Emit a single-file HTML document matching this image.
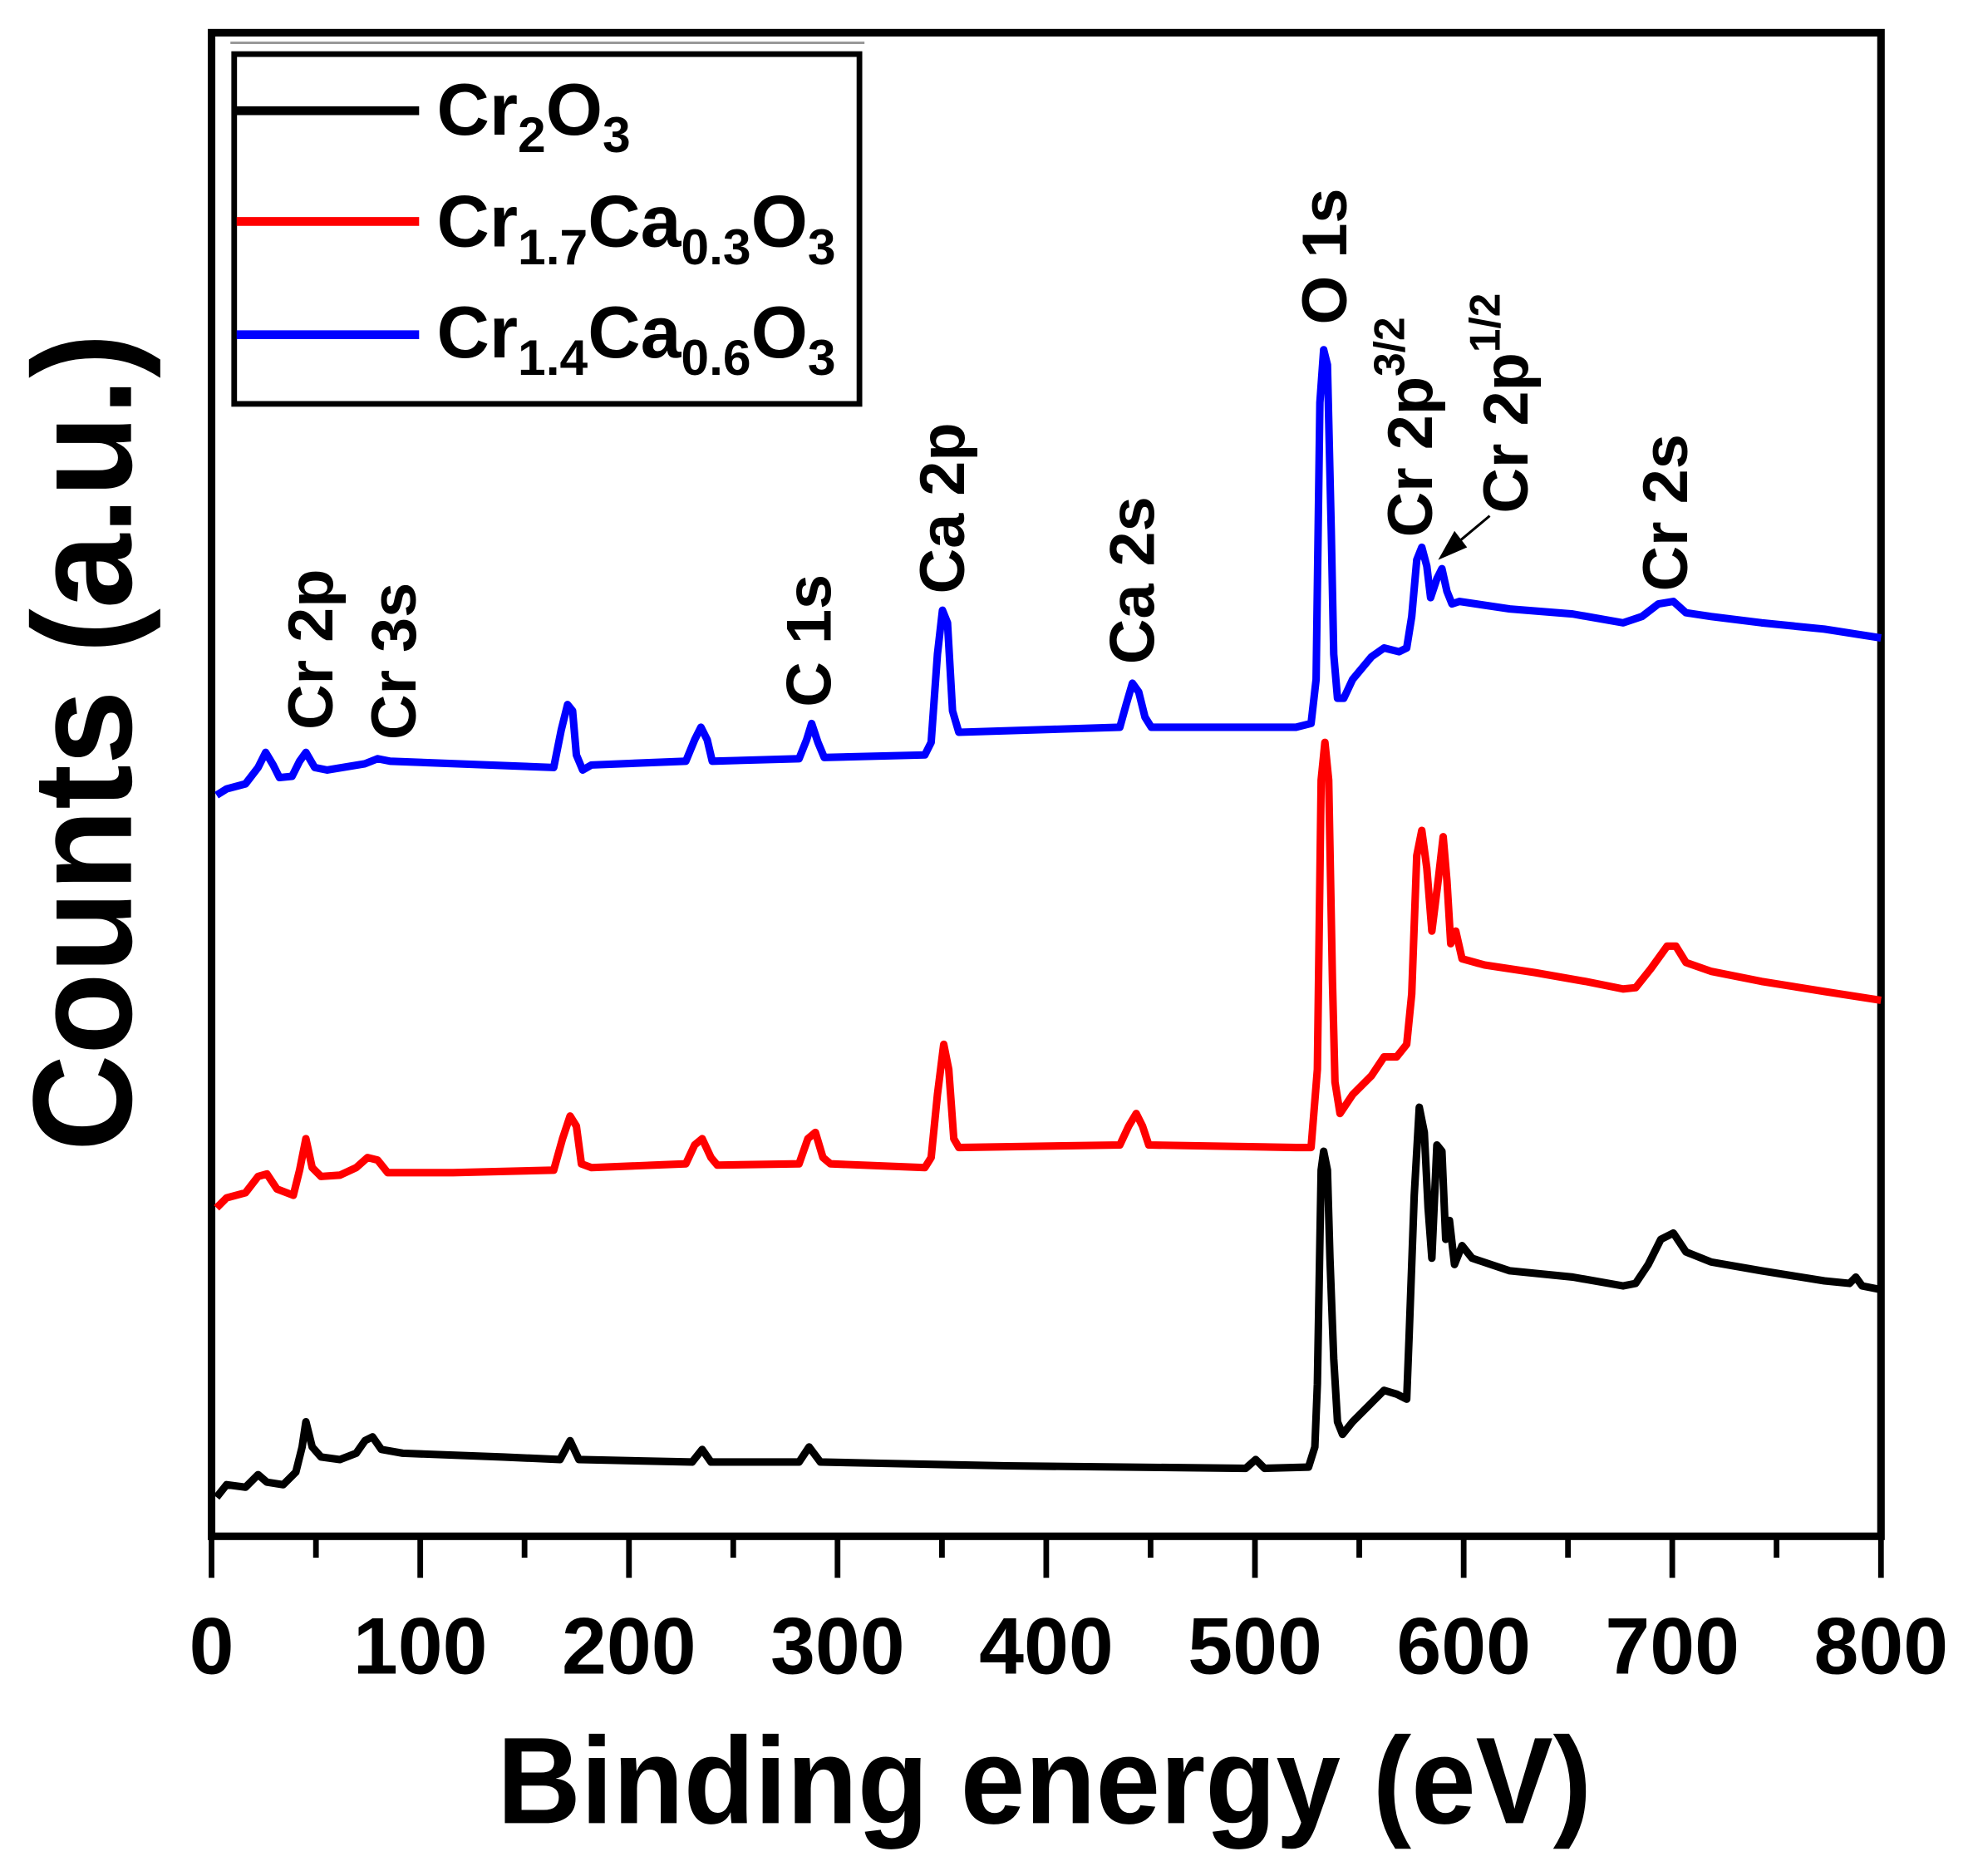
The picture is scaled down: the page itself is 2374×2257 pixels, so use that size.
<!DOCTYPE html>
<html><head><meta charset="utf-8"><style>html,body{margin:0;padding:0;background:#fff}svg{display:block}</style></head><body>
<svg width="2374" height="2257" viewBox="0 0 1568 1491" xmlns="http://www.w3.org/2000/svg" font-family="Liberation Sans, Arial, sans-serif" font-weight="bold">
<rect width="1568" height="1491" fill="#fff"/>
<rect x="168" y="26" width="1327" height="1195" fill="none" stroke="#000" stroke-width="6"/>
<line x1="183" y1="34" x2="687" y2="34" stroke="#999" stroke-width="2"/>
<g stroke="#000" stroke-width="4.5">
<line x1="168" y1="1221" x2="168" y2="1254"/><line x1="333.9" y1="1221" x2="333.9" y2="1254"/><line x1="499.8" y1="1221" x2="499.8" y2="1254"/><line x1="665.6" y1="1221" x2="665.6" y2="1254"/><line x1="831.5" y1="1221" x2="831.5" y2="1254"/><line x1="997.4" y1="1221" x2="997.4" y2="1254"/><line x1="1163.3" y1="1221" x2="1163.3" y2="1254"/><line x1="1329.1" y1="1221" x2="1329.1" y2="1254"/><line x1="1495" y1="1221" x2="1495" y2="1254"/>
<line x1="251" y1="1221" x2="251" y2="1238"/><line x1="416.8" y1="1221" x2="416.8" y2="1238"/><line x1="582.7" y1="1221" x2="582.7" y2="1238"/><line x1="748.6" y1="1221" x2="748.6" y2="1238"/><line x1="914.4" y1="1221" x2="914.4" y2="1238"/><line x1="1080.3" y1="1221" x2="1080.3" y2="1238"/><line x1="1246.2" y1="1221" x2="1246.2" y2="1238"/><line x1="1412" y1="1221" x2="1412" y2="1238"/>
</g>
<g font-size="64" text-anchor="middle">
<text x="168" y="1330">0</text><text x="333.9" y="1330">100</text><text x="499.8" y="1330">200</text><text x="665.6" y="1330">300</text><text x="831.5" y="1330">400</text><text x="997.4" y="1330">500</text><text x="1163.3" y="1330">600</text><text x="1329.1" y="1330">700</text><text x="1495" y="1330">800</text>
</g>
<text x="395" y="1449" font-size="98" textLength="870" lengthAdjust="spacingAndGlyphs">Binding energy (eV)</text>
<text transform="translate(104,915) rotate(-90)" font-size="112" textLength="650" lengthAdjust="spacingAndGlyphs">Counts (a.u.)</text>
<g fill="none" stroke-width="6" stroke-linejoin="round">
<polyline stroke="#000" points="172,1190 180,1180 195,1182 205,1172 212,1178 225,1180 235,1170 240,1150 243,1130 248,1150 255,1158 270,1160 283,1155 290,1145 296,1142 303,1152 320,1155 400,1158 445,1160 453,1145 460,1160 550,1162 558,1152 565,1162 635,1162 643,1150 652,1162 700,1163 800,1165 990,1167 998,1160 1005,1167 1040,1166 1045,1150 1047,1100 1050,930 1052,915 1055,930 1057,1000 1060,1080 1063,1130 1067,1140 1075,1130 1090,1115 1100,1105 1110,1108 1118,1112 1120,1060 1124,950 1128,880 1132,900 1135,960 1138,1000 1142,910 1146,915 1149,985 1152,970 1156,1005 1162,990 1170,1000 1200,1010 1250,1015 1290,1022 1300,1020 1310,1005 1320,985 1330,980 1340,995 1360,1003 1400,1010 1450,1018 1470,1020 1475,1015 1480,1022 1495,1025"/>
<polyline stroke="#f00" points="172,960 180,952 195,948 205,935 212,933 220,945 233,950 238,930 243,905 248,928 255,935 270,934 283,928 292,920 300,922 308,932 360,932 440,930 447,905 453,887 458,895 462,925 470,928 545,925 552,910 558,905 565,920 570,926 635,925 642,905 648,900 654,920 660,925 735,928 740,920 745,870 750,830 754,850 758,905 762,912 890,910 897,895 903,885 908,895 913,910 1030,912 1042,912 1047,850 1050,620 1053,590 1056,620 1059,780 1061,860 1065,885 1075,870 1090,855 1100,840 1110,840 1118,830 1122,790 1126,680 1130,660 1134,690 1138,740 1143,700 1147,665 1150,700 1153,750 1157,740 1162,762 1180,767 1220,773 1260,780 1290,786 1300,785 1312,770 1325,752 1332,752 1340,765 1360,772 1400,780 1450,788 1495,795"/>
<polyline stroke="#00f" points="172,632 180,627 195,623 205,610 211,598 217,608 222,618 232,617 238,605 243,598 250,610 260,612 290,607 300,603 310,605 440,610 446,580 451,560 455,565 458,600 463,612 470,608 545,605 552,588 557,578 562,588 566,605 635,603 641,588 645,575 650,590 655,602 735,600 740,590 745,520 749,485 753,495 757,565 762,582 890,578 895,560 900,543 905,550 910,570 915,578 1030,578 1042,575 1046,540 1049,320 1052,278 1055,290 1058,420 1060,520 1063,555 1068,555 1075,540 1090,522 1100,515 1112,518 1118,515 1122,490 1126,445 1130,435 1134,450 1137,475 1142,460 1146,452 1150,470 1154,480 1160,478 1200,484 1250,488 1290,495 1305,490 1318,480 1330,478 1340,487 1360,490 1400,495 1450,500 1495,507"/>
</g>
<rect x="186" y="43" width="497" height="278" fill="#fff" stroke="#000" stroke-width="4.5"/>
<line x1="188" y1="88" x2="333" y2="88" stroke="#000" stroke-width="7"/>
<line x1="188" y1="176" x2="333" y2="176" stroke="#f00" stroke-width="7"/>
<line x1="188" y1="266" x2="333" y2="266" stroke="#00f" stroke-width="7"/>
<g font-size="58">
<text x="347" y="107">Cr<tspan font-size="40" dy="14">2</tspan><tspan dy="-14">O</tspan><tspan font-size="40" dy="14">3</tspan></text>
<text x="347" y="196">Cr<tspan font-size="40" dy="14">1.7</tspan><tspan dy="-14">Ca</tspan><tspan font-size="40" dy="14">0.3</tspan><tspan dy="-14">O</tspan><tspan font-size="40" dy="14">3</tspan></text>
<text x="347" y="284">Cr<tspan font-size="40" dy="14">1.4</tspan><tspan dy="-14">Ca</tspan><tspan font-size="40" dy="14">0.6</tspan><tspan dy="-14">O</tspan><tspan font-size="40" dy="14">3</tspan></text>
</g>
<g font-size="50">
<text transform="translate(264,580) rotate(-90)">Cr 2p</text>
<text transform="translate(330,588) rotate(-90)">Cr 3s</text>
<text transform="translate(660,562) rotate(-90)">C 1s</text>
<text transform="translate(766,472) rotate(-90)">Ca 2p</text>
<text transform="translate(917,528) rotate(-90)">Ca 2s</text>
<text transform="translate(1070,258) rotate(-90)">O 1s</text>
<text transform="translate(1138,427) rotate(-90)">Cr 2p<tspan font-size="34" dy="-22">3/2</tspan></text>
<text transform="translate(1214,408) rotate(-90)">Cr 2p<tspan font-size="34" dy="-22">1/2</tspan></text>
<text transform="translate(1341,470) rotate(-90)">Cr 2s</text>
</g>
<line x1="1184" y1="410" x2="1160" y2="430" stroke="#000" stroke-width="2"/>
<polygon points="1143,445 1156,422 1166,435" fill="#000"/>
</svg>
</body></html>
